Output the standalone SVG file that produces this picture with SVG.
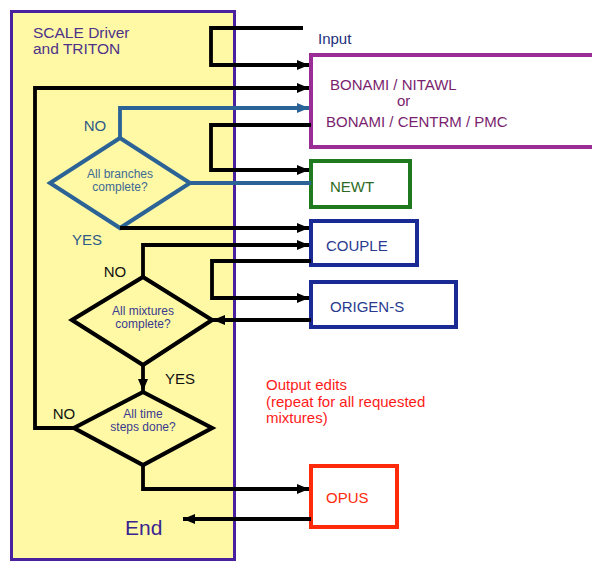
<svg xmlns="http://www.w3.org/2000/svg" width="592" height="563" viewBox="0 0 592 563">
<style>
text{font-family:"Liberation Sans",Arial,sans-serif}
.k{fill:none;stroke:#000;stroke-width:3.8px}
.b{fill:none;stroke:#2B6396;stroke-width:3.8px}
.box{fill:#fff;stroke-width:4px}
.d{fill:none;stroke:#000;stroke-width:4.2px}
.bt{font-size:15px}
.dt{font-size:12px;text-anchor:middle}
.yn{font-size:15px;text-anchor:middle}
</style>
<defs>
<marker id="ak" markerUnits="userSpaceOnUse" markerWidth="12" markerHeight="12" viewBox="0 0 12 12" refX="12" refY="6" orient="auto"><path d="M0,1 L12,6 L0,11 Z" fill="#000"/></marker>
<marker id="ab" markerUnits="userSpaceOnUse" markerWidth="12" markerHeight="12" viewBox="0 0 12 12" refX="12" refY="6" orient="auto"><path d="M0,1 L12,6 L0,11 Z" fill="#2B6396"/></marker>
</defs>
<g id="driver">
<rect x="11.5" y="11.5" width="223" height="548" fill="#FFF9A6" stroke="#4A22A0" stroke-width="3"/>
<text x="33" y="37.5" font-size="15.5" fill="#4E3389">SCALE Driver</text>
<text x="33" y="53.5" font-size="15.5" fill="#4E3389">and TRITON</text>
</g>
<g id="input"><text x="318" y="43.5" class="bt" fill="#22317A">Input</text></g>
<g id="bonami">
<rect class="box" x="311" y="55" width="286" height="92" stroke="#9A2E96"/>
<text x="330" y="89.5" class="bt" fill="#7A1F6E">BONAMI / NITAWL</text>
<text x="397" y="106" class="bt" fill="#7A1F6E">or</text>
<text x="326" y="126.5" class="bt" fill="#7A1F6E">BONAMI / CENTRM / PMC</text>
</g>
<g id="newt">
<rect class="box" x="311" y="161" width="99" height="46" stroke="#1F7A1F"/>
<text x="330" y="191.5" class="bt" fill="#2E6B22">NEWT</text>
</g>
<g id="couple">
<rect class="box" x="311" y="221" width="106" height="44" stroke="#1A2A94"/>
<text x="326" y="250.5" class="bt" fill="#2A3A8E">COUPLE</text>
</g>
<g id="origen">
<rect class="box" x="311" y="282" width="145" height="45" stroke="#1A2A94"/>
<text x="330" y="311.5" class="bt" fill="#2A3A8E">ORIGEN-S</text>
</g>
<g id="opus">
<rect class="box" x="311" y="466" width="86" height="61" stroke="#FF2A0A"/>
<text x="326" y="502.5" class="bt" fill="#FF2A0A">OPUS</text>
</g>
<g id="output-edits">
<text x="266" y="390" font-size="15" fill="#FF1A1A">Output edits</text>
<text x="266" y="406.5" font-size="15" fill="#FF1A1A">(repeat for all requested</text>
<text x="266" y="423" font-size="15" fill="#FF1A1A">mixtures)</text>
</g>
<g id="branches">
<polygon points="120,138 190,183 120,228 50,183" fill="none" stroke="#2B6396" stroke-width="4"/>
<text x="120" y="178" class="dt" fill="#3D6A94">All branches</text>
<text x="120" y="191" class="dt" fill="#3D6A94">complete?</text>
<text x="95" y="131" class="yn" fill="#2D5C88">NO</text>
<text x="87" y="245" class="yn" fill="#2D5C88">YES</text>
</g>
<g id="mixtures">
<polygon points="143,277 212,320 143,365 72,320" class="d"/>
<text x="143" y="315" class="dt" fill="#3A3A8E">All mixtures</text>
<text x="143" y="328" class="dt" fill="#3A3A8E">complete?</text>
<text x="115" y="277" class="yn" fill="#111">NO</text>
<text x="180" y="384" class="yn" fill="#111">YES</text>
</g>
<g id="timesteps">
<polygon points="143,392 212,428 143,465 74,428" class="d"/>
<text x="143" y="418" class="dt" fill="#3A3A8E">All time</text>
<text x="143" y="431" class="dt" fill="#3A3A8E">steps done?</text>
<text x="64" y="419" class="yn" fill="#111">NO</text>
</g>
<g id="end"><text x="125" y="534.5" font-size="21" fill="#3A2590">End</text></g>
<g id="connectors">
<path class="k" d="M303,28 H211 V65 H309" marker-end="url(#ak)"/>
<path class="k" d="M74,428 H35 V88 H309" marker-end="url(#ak)"/>
<path class="b" d="M120,138 V108 H309" marker-end="url(#ab)"/>
<path class="k" d="M311,125 H211 V170 H309" marker-end="url(#ak)"/>
<path class="b" d="M311,183 H190"/>
<path class="k" d="M120,228 H309" marker-end="url(#ak)"/>
<path class="k" d="M143,277 V245 H309" marker-end="url(#ak)"/>
<path class="k" d="M311,261 H212 V298 H309" marker-end="url(#ak)"/>
<path class="k" d="M311,320 H213" marker-end="url(#ak)"/>
<path class="k" d="M143,365 V391" marker-end="url(#ak)"/>
<path class="k" d="M143,465 V489 H309" marker-end="url(#ak)"/>
<path class="k" d="M311,519 H183" marker-end="url(#ak)"/>
</g>
</svg>
